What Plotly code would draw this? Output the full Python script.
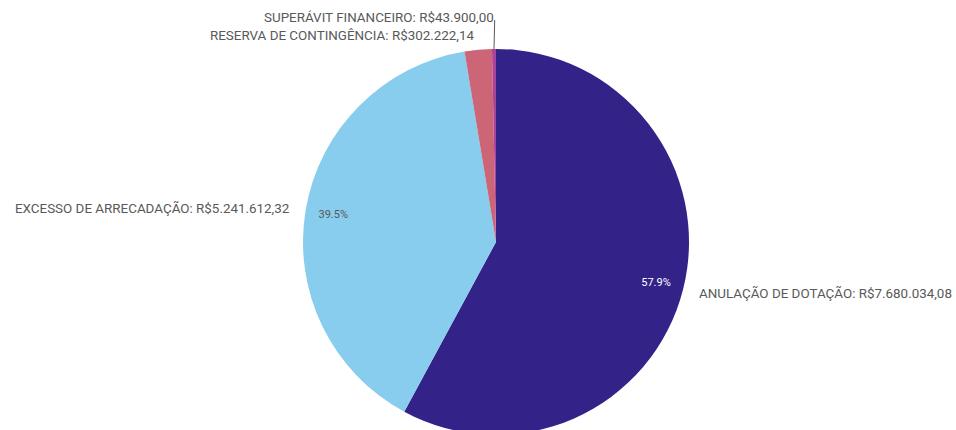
import math
import plotly.graph_objects as go

categories = ["ANULAÇÃO DE DOTAÇÃO", "EXCESSO DE ARRECADAÇÃO", "RESERVA DE CONTINGÊNCIA", "SUPERÁVIT FINANCEIRO"]
values = [7680034.08, 5241612.32, 302222.14, 43900.00]
colors = ["#332288", "#88CCEE", "#CC6677", "#AA4499"]
pct_colors = ["#ffffff", "#595959", "#595959", "#595959"]


def brl(v):
    s = f"{v:,.2f}"
    return "R$" + s.replace(",", "X").replace(".", ",").replace("X", ".")


total = sum(values)
pct_text = [f"{v / total * 100:.1f}%" if v / total > 0.05 else "" for v in values]
label_text = [f"{c}: {brl(v)}" for c, v in zip(categories, values)]

# ---- layout geometry (pixels) ----
W, H = 956, 440
CX, CY, R = 496, 242, 193
font_family = "Roboto, sans-serif"
text_color = "#595959"

dom_x = [(CX - R) / W, (CX + R) / W]
dom_y = [1 - (CY + R) / H, 1 - (CY - R) / H]

common = dict(labels=categories, values=values, sort=False, direction="clockwise",
              rotation=0, showlegend=False, domain=dict(x=dom_x, y=dom_y))

fig = go.Figure()
fig.add_trace(go.Pie(
    **common,
    marker=dict(colors=colors, line=dict(width=0)),
    textinfo="none",
    hoverinfo="label+value+percent",
))
# percentages near the rim, via a transparent ring
fig.add_trace(go.Pie(
    **common, hole=0.71,
    marker=dict(colors=["rgba(0,0,0,0)"] * 4, line=dict(width=0)),
    text=pct_text, textinfo="text", textposition="inside",
    insidetextorientation="horizontal",
    insidetextfont=dict(color=pct_colors, size=11, family=font_family),
    hoverinfo="skip",
))


def px_to_paper(x, y):
    return x / W, 1 - y / H


# outside labels placed at each slice's mid-angle
cum = 0.0
for lab, v in zip(label_text, values):
    frac = v / total
    mid = (cum + frac / 2) * 2 * math.pi
    cum += frac
    s, c = math.sin(mid), math.cos(mid)
    right_side = s > 0.05
    if frac < 0.01:
        # tiny slice: leader line straight up, label at its end
        x0, y0 = CX + R * s, CY - R * c
        x1, y1 = CX + (R + 29) * s + 1, CY - (R + 29) * c
        p0, p1 = px_to_paper(x0, y0), px_to_paper(x1, y1)
        fig.add_shape(type="line", xref="paper", yref="paper",
                      x0=p0[0], y0=p0[1], x1=p1[0], y1=p1[1],
                      line=dict(color=text_color, width=1))
        lx, ly = px_to_paper(x1 + 1, y1 - 3)
        xa = "right"
    else:
        rr = R + 14
        lx, ly = px_to_paper(CX + rr * s, CY - rr * c)
        xa = "left" if right_side else "right"
    fig.add_annotation(text=lab, x=lx, y=ly, xref="paper", yref="paper",
                       xanchor=xa, yanchor="middle", showarrow=False,
                       font=dict(color=text_color, size=13.4, family=font_family))

fig.update_layout(
    width=W, height=H,
    margin=dict(l=0, r=0, t=0, b=0),
    paper_bgcolor="white", plot_bgcolor="white",
    font=dict(family=font_family),
)
fig.write_html(
    "out.html",
    config={"displayModeBar": False},
    post_script="document.body.style.margin='0';"
                "document.body.style.overflow='hidden';"
                "document.documentElement.style.overflow='hidden';",
)
